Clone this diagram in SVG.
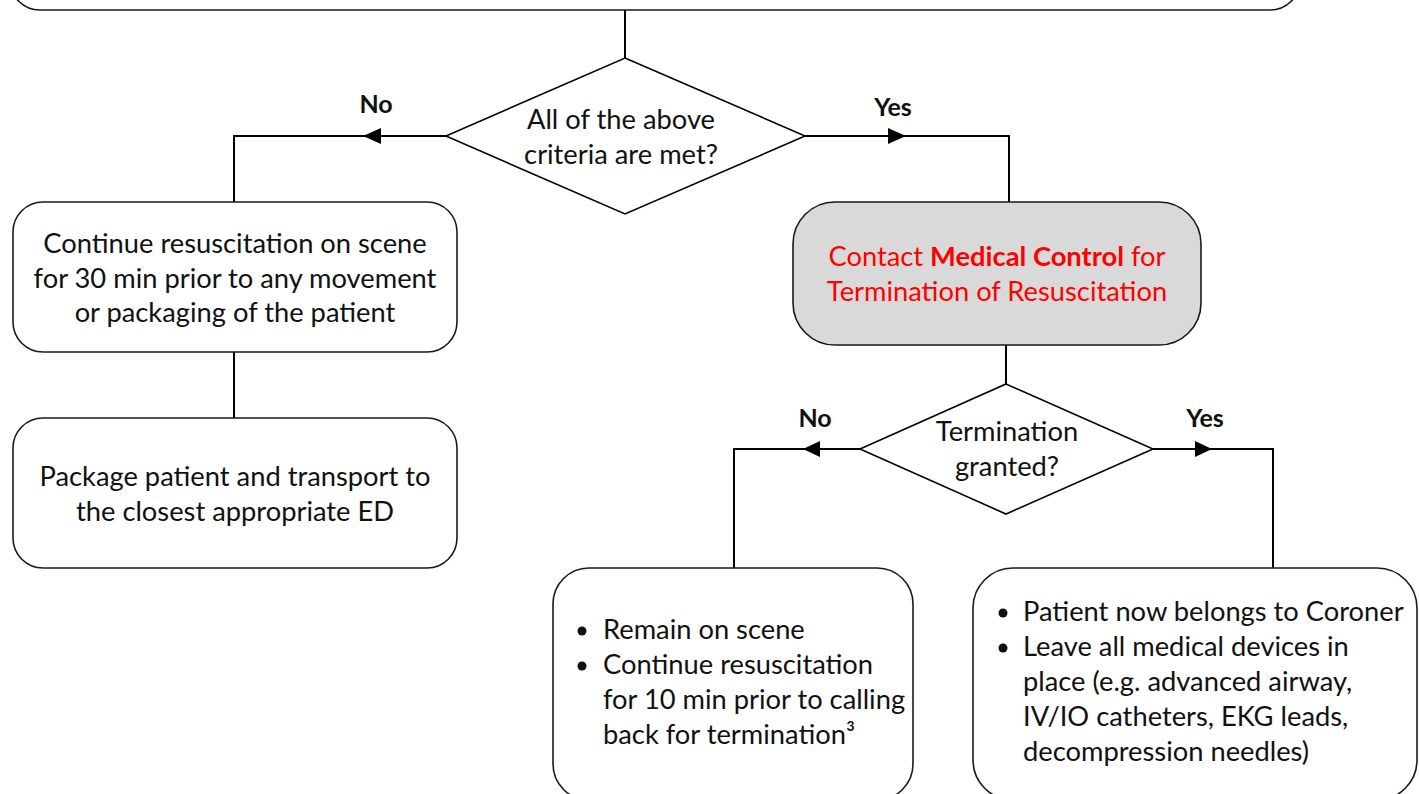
<svg xmlns="http://www.w3.org/2000/svg" width="1419" height="794" viewBox="0 0 1419 794">
<style>
.box{fill:#fff;stroke:#1a1a1a;stroke-width:1.6}
.gray{fill:#d9d9d9;stroke:#1a1a1a;stroke-width:1.6}
.dia{fill:#fff;stroke:#000;stroke-width:1.6}
.ln{fill:none;stroke:#000;stroke-width:2}
.ah{fill:#000}
text{font-family:Lato,"Open Sans","Liberation Sans",sans-serif;font-size:27.3px;fill:#111}
.c{text-anchor:middle}
.lbl{font-weight:bold;font-size:25px}
.red{fill:#ff0000}
</style>
<rect width="1419" height="794" fill="#fff"/>
<g id="top-box"><rect class="box" x="10" y="-60" width="1290" height="70" rx="30"/></g>
<g id="connectors">
<line class="ln" x1="625" y1="10" x2="625" y2="58"/>
<polyline class="ln" points="446,136 234,136 234,202"/>
<polygon class="ah" points="363,136 381,128 381,144"/>
<polyline class="ln" points="805,136 1009,136 1009,202"/>
<polygon class="ah" points="906,136 888,128 888,144"/>
<line class="ln" x1="234" y1="352" x2="234" y2="418"/>
<line class="ln" x1="1006" y1="345" x2="1006" y2="384"/>
<polyline class="ln" points="860,449 734,449 734,568"/>
<polygon class="ah" points="803,449 820,441 820,457"/>
<polyline class="ln" points="1153,449 1273,449 1273,568"/>
<polygon class="ah" points="1212,449 1195,441 1195,457"/>
</g>
<g id="decision1">
<polygon class="dia" points="625,58 805,136 625,214 446,136"/>
<text class="c" x="621" y="129">All of the above</text>
<text class="c" x="621" y="164">criteria are met?</text>
</g>
<g id="label-no1"><text class="lbl c" x="376" y="113">No</text></g>
<g id="label-yes1"><text class="lbl c" x="893" y="116">Yes</text></g>
<g id="continue-box">
<rect class="box" x="13" y="202" width="444" height="150" rx="30"/>
<text class="c" x="235" y="253">Continue resuscitation on scene</text>
<text class="c" x="235" y="288">for 30 min prior to any movement</text>
<text class="c" x="235" y="322">or packaging of the patient</text>
</g>
<g id="package-box">
<rect class="box" x="13" y="418" width="444" height="150" rx="30"/>
<text class="c" x="235" y="486">Package patient and transport to</text>
<text class="c" x="235" y="521">the closest appropriate ED</text>
</g>
<g id="medical-control">
<rect class="gray" x="793" y="202" width="408" height="143" rx="42"/>
<text class="c red" x="997" y="266">Contact <tspan font-weight="bold">Medical Control</tspan> for</text>
<text class="c red" x="997" y="301">Termination of Resuscitation</text>
</g>
<g id="decision2">
<polygon class="dia" points="1006,384 1153,449 1006,514 860,449"/>
<text class="c" x="1007" y="441">Termination</text>
<text class="c" x="1007" y="476">granted?</text>
</g>
<g id="label-no2"><text class="lbl c" x="815" y="427">No</text></g>
<g id="label-yes2"><text class="lbl c" x="1205" y="427">Yes</text></g>
<g id="remain-box">
<rect class="box" x="553" y="568" width="360" height="232" rx="36"/>
<circle cx="582" cy="631" r="4.5" fill="#111"/>
<circle cx="582" cy="666" r="4.5" fill="#111"/>
<text x="603" y="639">Remain on scene</text>
<text x="603" y="674">Continue resuscitation</text>
<text x="603" y="709">for 10 min prior to calling</text>
<text x="603" y="744">back for termination³</text>
</g>
<g id="coroner-box">
<rect class="box" x="973" y="568" width="444" height="232" rx="40"/>
<circle cx="1003" cy="613" r="4.5" fill="#111"/>
<circle cx="1003" cy="648" r="4.5" fill="#111"/>
<text x="1023" y="621">Patient now belongs to Coroner</text>
<text x="1023" y="656">Leave all medical devices in</text>
<text x="1023" y="691">place (e.g. advanced airway,</text>
<text x="1023" y="726">IV/IO catheters, EKG leads,</text>
<text x="1023" y="761">decompression needles)</text>
</g>
</svg>
